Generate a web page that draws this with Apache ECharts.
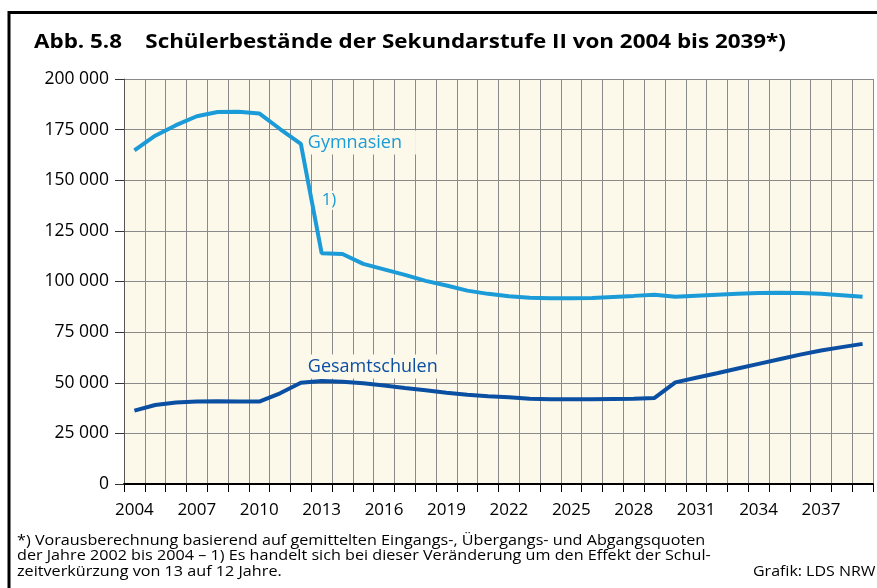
<!DOCTYPE html>
<html><head><meta charset="utf-8">
<script src="https://cdn.jsdelivr.net/npm/echarts@6/dist/echarts.min.js"></script>
<style>html,body{margin:0;padding:0;background:#fff}#c{width:877px;height:588px}</style>
</head><body><div id="c"></div>
<script>
const years = ['2004','2005','2006','2007','2008','2009','2010','2011','2012','2013','2014','2015',
  '2016','2017','2018','2019','2020','2021','2022','2023','2024','2025','2026','2027',
  '2028','2029','2030','2031','2032','2033','2034','2035','2036','2037','2038','2039'];
const gymnasien = [164700,172000,177200,181600,183700,183800,183000,175300,168000,114000,113600,108700,
  106000,103300,100300,98000,95500,93900,92700,92000,91700,91700,91900,92400,
  92900,93500,92500,93000,93500,94000,94300,94500,94300,93900,93200,92500];
const gesamtschulen = [36200,39000,40300,40800,40900,40800,40700,44800,50000,50900,50500,49700,
  48600,47400,46300,45100,44100,43300,42800,42100,41800,41800,41800,42000,
  42100,42500,50200,52500,54700,57000,59300,61600,63900,65900,67600,69200];
const yTicks = [0,25000,50000,75000,100000,125000,150000,175000,200000];
const titleText = 'Abb. 5.8    Schülerbestände der Sekundarstufe II von 2004 bis 2039*)';
const footLines = [
  '*) Vorausberechnung basierend auf gemittelten Eingangs-, Übergangs- und Abgangsquoten',
  'der Jahre 2002 bis 2004 – 1) Es handelt sich bei dieser Veränderung um den Effekt der Schul-',
  'zeitverkürzung von 13 auf 12 Jahre.'
];
const sourceText = 'Grafik: LDS NRW';

const FONT = '"Open Sans", "Noto Sans", sans-serif';
const LIGHT = '#1b9bd7';
const DARK = '#0b4fa3';
const BG = '#fdf9ea';
const fmt = v => String(v).replace(/\B(?=(\d{3})+(?!\d))/g, ' ');

const chart = echarts.init(document.getElementById('c'), null, {renderer: 'canvas'});
chart.setOption({
  animation: false,
  backgroundColor: '#fff',
  grid: {left: 124, right: 4, top: 79, bottom: 104, show: true, backgroundColor: BG, borderWidth: 0},
  xAxis: {
    type: 'category', data: years, boundaryGap: true,
    axisLine: {lineStyle: {color: '#000', width: 2}},
    axisTick: {show: true, interval: 0, length: 8, lineStyle: {color: '#000', width: 1}},
    axisLabel: {interval: 2, color: '#000', fontFamily: FONT, fontSize: 17, margin: 18},
    splitLine: {show: true, interval: 0, lineStyle: {color: '#8a8a8a', width: 1}}
  },
  yAxis: {
    type: 'value', min: yTicks[0], max: yTicks[yTicks.length-1], interval: yTicks[1]-yTicks[0],
    axisLine: {show: true, lineStyle: {color: '#555', width: 1}},
    axisTick: {show: true, length: 9, lineStyle: {color: '#333', width: 1}},
    axisLabel: {color: '#000', fontFamily: FONT, fontSize: 17.5, margin: 15, formatter: fmt},
    splitLine: {show: true, lineStyle: {color: '#8a8a8a', width: 1}}
  },
  series: [
    {
      name: 'Gymnasien', type: 'line', data: gymnasien, symbol: 'none', smooth: false,
      lineStyle: {color: LIGHT, width: 4}, z: 3,
      markPoint: {
        symbol: 'rect', symbolSize: 0, silent: true,
        data: [
          {coord: ['2012', 168700], label: {show: true, position: 'right', distance: 5, formatter: 'Gymnasien',
            color: LIGHT, fontFamily: FONT, fontSize: 18, backgroundColor: BG, padding: [3, 14, 3, 2]}},
          {coord: ['2013', 140100], label: {show: true, position: 'right', distance: 0, formatter: '1)',
            color: LIGHT, fontFamily: FONT, fontSize: 17, backgroundColor: BG, padding: [1, 1, 1, 0]}}
        ]
      }
    },
    {
      name: 'Gesamtschulen', type: 'line', data: gesamtschulen, symbol: 'none', smooth: false,
      lineStyle: {color: DARK, width: 4}, z: 3,
      markPoint: {
        symbol: 'rect', symbolSize: 0, silent: true,
        data: [
          {coord: ['2012', 58000], label: {show: true, position: 'right', distance: 5, formatter: 'Gesamtschulen',
            color: DARK, fontFamily: FONT, fontSize: 18, backgroundColor: BG, padding: [3, 2, 3, 2]}}
        ]
      }
    }
  ],
  graphic: [
    {type: 'polyline', shape: {points: [[9, 600], [9, 12.5], [900, 12.5]]}, style: {stroke: '#000', lineWidth: 3, fill: null}},
    {type: 'text', x: 34, y: 42, scaleX: 1.12, style: {text: titleText, font: 'bold 20px ' + FONT, fill: '#000', verticalAlign: 'middle'}},
    {type: 'text', x: 17, y: 541.5, scaleX: 1.155, style: {text: footLines[0], font: '14px ' + FONT, fill: '#000', verticalAlign: 'middle'}},
    {type: 'text', x: 17, y: 556.5, scaleX: 1.155, style: {text: footLines[1], font: '14px ' + FONT, fill: '#000', verticalAlign: 'middle'}},
    {type: 'text', x: 17, y: 572.5, scaleX: 1.155, style: {text: footLines[2], font: '14px ' + FONT, fill: '#000', verticalAlign: 'middle'}},
    {type: 'text', x: 753, y: 572.5, scaleX: 1.14, style: {text: sourceText, font: '14px ' + FONT, fill: '#000', verticalAlign: 'middle'}}
  ]
});
</script></body></html>
